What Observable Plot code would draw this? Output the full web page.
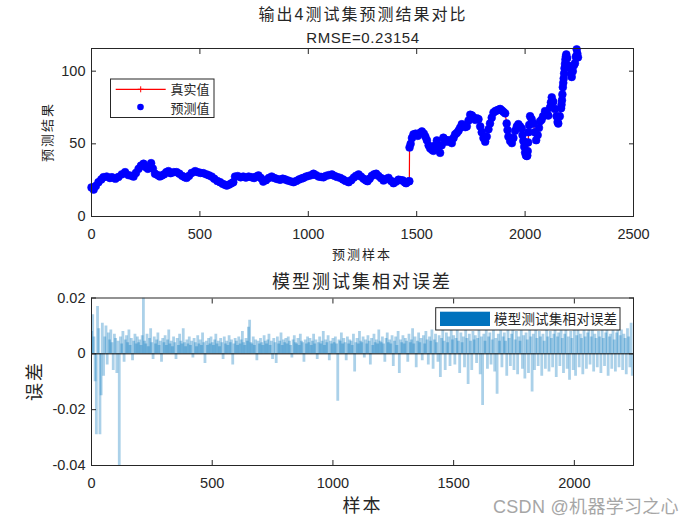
<!DOCTYPE html>
<html><head><meta charset="utf-8">
<script src="https://cdn.jsdelivr.net/npm/d3@7"></script>
<script src="https://cdn.jsdelivr.net/npm/@observablehq/plot@0.6"></script>
<style>
body{margin:0;background:#fff}
#fig{position:relative;width:700px;height:525px;background:#fff;overflow:hidden}
#fig svg{position:absolute;left:0}
</style></head><body><div id="fig"></div>
<script>
// ---------- top panel: 输出4测试集预测结果对比 ----------
const topSample = [
0,10,20,32,45,55,70,85,94,110,
124,140,155,170,185,194,205,217,228,240,
250,260,268,275,283,293,305,315,324,335,
345,355,365,380,393,405,418,430,439,450,
462,478,490,503,516,530,542,554,566,580,
593,605,616,624,635,645,654,662,675,688,
700,712,725,739,750,760,770,781,792,805,
818,831,843,856,870,882,893,905,918,932,
945,958,970,978,990,1002,1015,1024,1035,1048,
1060,1070,1082,1095,1109,1120,1133,1147,1160,1172,
1186,1198,1210,1220,1232,1243,1255,1265,1273,1283,
1293,1303,1313,1323,1335,1347,1358,1370,1382,1393,
1405,1416,1426,1436,1445,1451,1460,1466,1467,1472,
1478,1485,1495,1505,1515,1524,1533,1540,1547,1555,
1562,1570,1577,1585,1593,1600,1608,1615,1623,1630,
1640,1650,1662,1670,1677,1685,1693,1700,1708,1716,
1724,1731,1739,1747,1755,1763,1770,1778,1785,1793,
1800,1808,1816,1823,1831,1838,1846,1854,1862,1870,
1878,1885,1893,1900,1908,1915,1919,1923,1931,1939,
1946,1954,1962,1969,1977,1985,1988,1992,1996,2000,
2004,2008,2010,2012,2014,2016,2019,2023,2030,2038,
2045,2051,2058,2064,2069,2076,2083,2092,2100,2107,
2115,2119,2123,2130,2138,2145,2150,2153,2160,2166,
2168,2170,2172,2174,2176,2178,2180,2182,2184,2186,
2188,2190,2194,2198,2203,2207,2212,2215,2220,2225,
2230,2234,2238,2241,2244];
const trueVals = [
20,18.5,21,23.6,25.5,27,27.5,26.5,27,26,
27.2,29,30.5,28.5,28,27.5,30,32.8,35,36.3,
34,32.8,34.5,36.7,33,29.4,28.5,27.6,28.2,29,
30.5,31.2,29.8,30.5,30.5,29.5,28,27,26.6,28,
30,31.2,30.5,30,29.8,29,28.3,27.5,26,24.5,
23.6,22.5,21.8,21.3,22,22.8,23.6,27.5,27.8,27,
27.5,26.8,27.5,27,26.5,27.5,28.2,26.5,24,25,
26.5,27.5,26.5,25.8,25.3,26,25.5,24.8,24.2,23.6,
24.5,25.5,26.2,26.6,27.5,28,28.5,29.4,28.5,27.5,
27.2,27,28,28.5,28.9,28,27.2,26.6,25.5,24.5,
23.6,25,26.8,28,28.9,27.5,26,25,24.3,26,
28,29,29.4,28,26.5,24.8,25.8,26.6,24.5,22.9,
24,25.3,25,24.8,23.5,22.9,24,24.3,47.5,50,
54,56.5,57,55.5,57.5,58.5,57,55,52.5,49,
47,46,45.2,49,52.3,48,43.8,49,54.2,53,
51.5,52.5,50.5,54,56.5,57.5,59,61,63.5,62.5,
61.5,62,66,70,69.5,68,66.5,67.5,67,62,
58,54,51.5,55,60,64,68,71.5,72.5,73,
73.5,74,73,72,71,64,59.5,55,52,50.5,
54,59,62,63.5,62,60.5,56,52,48,44,
42,41,42,45,51,58,63,69,67,64,
58,52.5,56,61,65.5,66.5,69,72.5,71,69.5,
75,78.5,82,79,74,69,65,64,69,74.5,
77,80,84,89,92,95,98.5,102,105,108,
110,111.5,109,104,103,102.5,98,96,100,104,
105.5,110,115,112,109.5];
const predVals = [
20,18.5,21,23.6,25.5,27,27.5,26.5,27,26,
27.2,29,30.5,28.5,28,27.5,30,32.8,35,36.3,
34,32.8,34.5,36.7,33,29.4,28.5,27.6,28.2,29,
30.5,31.2,29.8,30.5,30.5,29.5,28,27,26.6,28,
30,31.2,30.5,30,29.8,29,28.3,27.5,26,24.5,
23.6,22.5,21.8,21.3,22,22.8,23.6,27.5,27.8,27,
27.5,26.8,27.5,27,26.5,27.5,28.2,26.5,24,25,
26.5,27.5,26.5,25.8,25.3,26,25.5,24.8,24.2,23.6,
24.5,25.5,26.2,26.6,27.5,28,28.5,29.4,28.5,27.5,
27.2,27,28,28.5,28.9,28,27.2,26.6,25.5,24.5,
23.6,25,26.8,28,28.9,27.5,26,25,24.3,26,
28,29,29.4,28,26.5,24.8,25.8,26.6,24.5,22.9,
24,25.3,25,24.8,23.5,22.9,24,24.3,47.5,50,
54,56.5,57,55.5,57.5,58.5,57,55,52.5,49,
47,46,45.2,49,52.3,48,43.8,49,54.2,53,
51.5,52.5,50.5,54,56.5,57.5,59,61,63.5,62.5,
61.5,62,66,70,69.5,68,66.5,67.5,67,62,
58,54,51.5,55,60,64,68,71.5,72.5,73,
73.5,74,73,72,71,64,59.5,55,52,50.5,
54,59,62,63.5,62,60.5,56,52,48,44,
42,41.6,42,45,51,58,63,69,67,64,
58,52.5,56,61,65.5,66.5,69,72.5,71,69.5,
75,78.5,82,79,74,69,65,64,69,74.5,
77,80,84,89,92,95,98.5,102,105,108,
110,111.5,109,104,103,102.5,98,96,100,104,
105.5,110,115,112,109.5];
const topXTicks = [0, 500, 1000, 1500, 2000, 2500];
const topYTicks = [0, 50, 100];

// ---------- bottom panel: 模型测试集相对误差 ----------
const errStep = 5;            // sample spacing of the read-off bars
const errX1e4 = [             // relative error × 10^4, samples 0,5,10,...
80,140,60,-100,-290,170,90,-290,-150,110,-80,60,100,-40,75,50,85,40,-60,70,
55,-70,45,-410,60,35,80,-30,50,65,40,85,30,55,-25,45,70,35,60,40,
50,30,65,200,45,35,70,25,55,90,40,-20,60,35,50,75,30,45,-30,55,
40,65,30,50,85,35,45,25,60,40,-20,55,30,70,45,35,90,40,25,50,
35,60,30,45,-15,55,40,25,65,35,50,30,75,40,-35,45,30,55,35,60,
40,30,50,70,35,45,25,55,40,-20,60,35,45,30,65,40,50,-40,35,55,
45,30,60,35,50,80,40,30,55,45,95,120,40,35,60,30,50,-25,45,35,
55,40,30,65,45,35,50,70,30,45,-20,55,40,-35,60,35,45,75,30,50,
40,55,35,60,45,30,-15,50,65,40,35,55,30,70,45,40,-30,50,35,60,
40,55,30,45,70,35,50,-20,40,60,35,45,80,30,50,40,65,-25,45,35,
55,40,60,35,-170,50,45,75,35,55,40,-25,60,35,50,45,30,70,-65,40,
55,35,80,45,40,60,-15,50,35,65,45,-40,55,30,70,40,50,35,85,45,
40,60,35,-30,55,75,40,50,35,65,-45,45,60,30,80,-70,50,40,65,35,
55,45,-30,70,40,50,90,35,60,-50,45,75,40,55,-25,65,35,80,50,-40,
60,45,85,-55,50,70,40,-30,65,-85,55,90,45,-60,75,40,60,-45,85,50,
65,-40,55,90,45,-70,75,40,60,-50,85,55,-110,70,45,-60,80,50,65,-35,
55,85,-75,60,-185,70,45,95,-55,60,75,-40,50,85,-65,55,-145,70,45,90,
-50,60,75,45,-80,85,55,-45,70,100,-60,50,80,-75,60,45,90,-55,65,-90,
75,50,-70,85,60,-137,70,-60,95,55,-45,80,60,-80,70,45,-55,90,60,-65,
80,55,-50,70,95,-85,60,75,-45,85,55,-70,70,100,-55,60,-95,80,55,-60,
90,-80,65,85,-50,70,55,-75,95,60,-55,75,85,-40,60,100,-65,70,55,-50,
80,60,-70,90,55,-45,75,95,-80,60,70,-55,85,50,-65,75,100,-50,65,85,
-60,70,55,-75,90,60,-50,110,-80];
const botXTicks = [0, 500, 1000, 1500, 2000];
const botYTicks = [-0.04, -0.02, 0, 0.02];

// ---------- drawing ----------
const FONT = '"Liberation Sans", Arial, "Noto Sans CJK SC", sans-serif';
const fig = document.getElementById("fig");
const baseStyle = {fontFamily: FONT, fontSize: "14.5px", color: "#262626", background: "transparent", overflow: "visible"};
const fmt = d => String(d);
const blank = () => "";

const topData = topSample.map((s, i) => ({s, t: trueVals[i], p: predVals[i]}));
const errData = errX1e4.map((v, i) => ({s: i * errStep, e: v / 1e4}));

const topPlot = Plot.plot({
  width: 700, height: 262,
  marginLeft: 91, marginRight: 67, marginTop: 48, marginBottom: 46,
  style: baseStyle,
  x: {domain: [0, 2500], label: null},
  y: {domain: [0, 115.6], label: null},
  marks: [
    Plot.line(topData, {x: "s", y: "t", stroke: "#ff0000", strokeWidth: 1.2}),
    Plot.dot(topData, {x: "s", y: "p", r: 3.9, fill: "#0000ff", stroke: "#0000ff", strokeWidth: 0.6}),
    Plot.frame({stroke: "#262626"}),
    Plot.axisX(topXTicks, {anchor: "bottom", tickSize: -5, tickPadding: 17, tickFormat: fmt, label: null}),
    Plot.axisX(topXTicks, {anchor: "top", tickSize: -5, tickFormat: blank, label: null}),
    Plot.axisY(topYTicks, {anchor: "left", tickSize: -5, tickPadding: 11, tickFormat: fmt, label: null}),
    Plot.axisY(topYTicks, {anchor: "right", tickSize: -5, tickFormat: blank, label: null})
  ]
});
topPlot.style.top = "0px";
fig.appendChild(topPlot);

const botPlot = Plot.plot({
  width: 700, height: 263,
  marginLeft: 91, marginRight: 67, marginTop: 35.5, marginBottom: 60,
  style: baseStyle,
  x: {domain: [0, 2245], label: null},
  y: {domain: [-0.04, 0.02], label: null},
  marks: [
    Plot.ruleX(errData, {x: "s", y1: 0, y2: "e", stroke: "#0072BD", strokeWidth: 2.8, strokeOpacity: 0.33, clip: true}),
    Plot.ruleY([0], {stroke: "#000000", strokeWidth: 1}),
    Plot.frame({stroke: "#262626"}),
    Plot.axisX(botXTicks, {anchor: "bottom", tickSize: -5, tickPadding: 17, tickFormat: fmt, label: null}),
    Plot.axisX(botXTicks, {anchor: "top", tickSize: -5, tickFormat: blank, label: null}),
    Plot.axisY(botYTicks, {anchor: "left", tickSize: -5, tickPadding: 11, tickFormat: fmt, label: null}),
    Plot.axisY(botYTicks, {anchor: "right", tickSize: -5, tickFormat: blank, label: null})
  ]
});
botPlot.style.top = "262px";
fig.appendChild(botPlot);

// overlay: titles, axis labels, legends
const ov = d3.create("svg").attr("width", 700).attr("height", 525)
  .style("top", "0px").style("font-family", FONT);
function txt(x, y, s, size, ls, opts = {}) {
  const t = ov.append("text").attr("x", x).attr("y", y).text(s)
    .attr("font-size", size).attr("fill", opts.fill || "#262626")
    .attr("text-anchor", opts.anchor || "middle")
    .attr("dominant-baseline", "central")
    .style("letter-spacing", ls + "px");
  if (opts.rotate) t.attr("transform", `rotate(-90 ${x} ${y})`);
  return t;
}
txt(363, 14, "输出4测试集预测结果对比", 16, 2);
txt(363, 37.5, "RMSE=0.23154", 15, 0.6);
txt(362, 254, "预测样本", 13, 2);
txt(47, 132, "预测结果", 13, 2, {rotate: true});
txt(362, 281.5, "模型测试集相对误差", 18, 2);
txt(35, 381, "误差", 18, 2, {rotate: true});
txt(362.5, 505.5, "样本", 18, 2);
txt(493, 507, "CSDN @机器学习之心", 18, 0.3, {anchor: "start", fill: "#a6a6a6"});

// top legend
ov.append("rect").attr("x", 110.5).attr("y", 79).attr("width", 103.5).attr("height", 38.5)
  .attr("fill", "#fff").attr("stroke", "#262626").attr("stroke-width", 1);
ov.append("line").attr("x1", 115.7).attr("x2", 165.7).attr("y1", 89.3).attr("y2", 89.3)
  .attr("stroke", "#ff0000").attr("stroke-width", 1.2);
ov.append("path").attr("d", "M137.7,89.3H143.7M140.7,86.3V92.3").attr("stroke", "#ff0000").attr("stroke-width", 1);
ov.append("circle").attr("cx", 140.5).attr("cy", 107).attr("r", 3.3).attr("fill", "#0000ff");
txt(170.5, 89.5, "真实值", 13, 0, {anchor: "start"});
txt(170.5, 108, "预测值", 13, 0, {anchor: "start"});

// bottom legend
ov.append("rect").attr("x", 435.7).attr("y", 307.7).attr("width", 184.3).attr("height", 22.3)
  .attr("fill", "#fff").attr("stroke", "#262626").attr("stroke-width", 1);
ov.append("rect").attr("x", 440).attr("y", 311.7).attr("width", 50).attr("height", 14.3).attr("fill", "#0072BD");
txt(494, 319.5, "模型测试集相对误差", 13.5, 0.2, {anchor: "start"});

fig.appendChild(ov.node());
</script></body></html>
